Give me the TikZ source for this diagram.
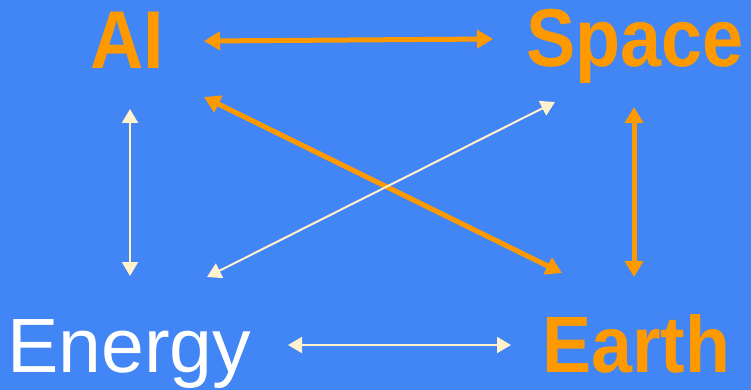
\documentclass[tikz,border=0pt]{standalone}
\usepackage{fontspec}
\setmainfont{Liberation Sans}
\newfontfamily\narrowbold[FakeStretch=0.9]{Liberation Sans Bold}
\newfontfamily\earthbold[FakeStretch=0.92]{Liberation Sans Bold}
\newfontfamily\plainsans[FakeStretch=1.0]{Liberation Sans}
\usetikzlibrary{arrows.meta}
\definecolor{bgblue}{HTML}{4285F4}
\definecolor{orng}{HTML}{FF9900}
\definecolor{cream}{HTML}{FFF2CC}
\tikzset{
  lbl/.style={inner sep=0pt, anchor=base west},
  orangearrow/.style={draw=orng, line width=5pt, {Triangle[width=18pt,length=16pt]}-{Triangle[width=18pt,length=16pt]}},
  creamarrow/.style={draw=cream, line width=2pt, {Triangle[width=16pt,length=14pt]}-{Triangle[width=16pt,length=14pt]}},
}
\begin{document}
\begin{tikzpicture}[x=1pt,y=-1pt]
\fill[bgblue] (0,0) rectangle (751,390);
\useasboundingbox (0,0) rectangle (751,390);
\node[lbl, text=orng, font=\narrowbold\fontsize{82}{82}\selectfont] (ai) at (90,69) {AI};
\node[lbl, text=orng, font=\narrowbold\fontsize{82}{82}\selectfont] (space) at (526,67) {Space};
\node[lbl, text=white, font=\plainsans\fontsize{77}{77}\selectfont] (energy) at (7,372) {Energy};
\node[lbl, text=orng, font=\earthbold\fontsize{80}{80}\selectfont] (earth) at (542,372) {Earth};
% arrow ends
\coordinate (aiR) at (204,41);
\coordinate (spL) at (493,39);
\coordinate (aiD) at (204,97);
\coordinate (eaU) at (562,273);
\coordinate (enU) at (207,277);
\coordinate (spD) at (555,102);
\coordinate (aiB) at (130,109);
\coordinate (enT) at (130,276);
\coordinate (spB) at (634,107);
\coordinate (eaT) at (634,277);
\coordinate (enR) at (288,345);
\coordinate (eaL) at (511,345);
\draw[orangearrow] (aiR) -- (spL);
\draw[orangearrow] (aiD) -- (eaU);
\draw[orangearrow] (spB) -- (eaT);
\draw[creamarrow] (enU) -- (spD);
\draw[creamarrow] (aiB) -- (enT);
\draw[creamarrow] (enR) -- (eaL);
\end{tikzpicture}
\end{document}
